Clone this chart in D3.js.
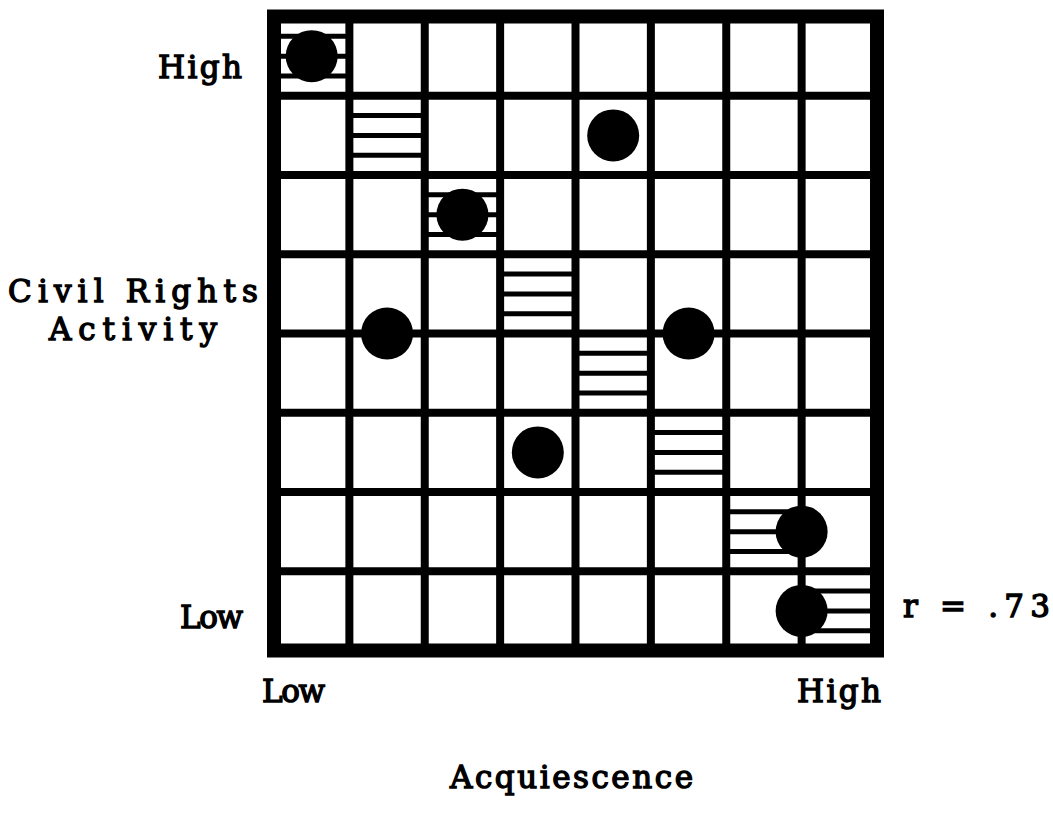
<!DOCTYPE html>
<html>
<head>
<meta charset="utf-8">
<script src="https://cdn.jsdelivr.net/npm/d3@7"></script>
<style>
  body { margin: 0; background: #fff; }
  text { font-family: "DejaVu Serif", "Liberation Serif", serif; fill: #000; stroke: #000; stroke-width: 1.4px; }
</style>
</head>
<body>
<div id="chart"></div>
<script>

// ranks of the eight cases (1 = low, 8 = high, ties share the mean rank)
var acquiescenceRank = [1, 5, 3, 2, 6, 4, 7.5, 7.5];
var civilRightsRank  = [8, 7, 6, 4.5, 4.5, 3, 2, 1];

// cells of a perfect rank order, drawn hatched
var perfectAcq   = [1, 2, 3, 4, 5, 6, 7, 8];
var perfectCivil = [8, 7, 6, 5, 4, 3, 2, 1];

// grid levels and labels
var levels = [1, 2, 3, 4, 5, 6, 7, 8];
var xLabels = ["Low", "High"];
var yLabels = ["Low", "High"];
var xTitle = "Acquiescence";
var yTitle = ["Civil Rights", "Activity"];
var rText = "r = .73";

// setting the dimensions of the page
var width = 1053,
    height = 820;

var svg = d3.select("#chart").append("svg")
    .attr("width", width)
    .attr("height", height);

// scales: one unit per grid cell
var x = d3.scaleLinear()
    .domain([levels[0] - 0.5, levels[levels.length - 1] + 0.5])
    .range([274, 877]);
var y = d3.scaleLinear()
    .domain([levels[0] - 0.5, levels[levels.length - 1] + 0.5])
    .range([650.5, 16.5]);

var cellH = y(0.5) - y(1.5);

// hatched cells: three horizontal bars per cell
var hatch = svg.append("g");
perfectAcq.forEach(function(a, i) {
  var c = perfectCivil[i];
  [0.25, 0.5, 0.75].forEach(function(f) {
    hatch.append("line")
      .attr("x1", x(a - 0.5))
      .attr("x2", x(a + 0.5))
      .attr("y1", y(c + 0.5) + f * cellH)
      .attr("y2", y(c + 0.5) + f * cellH)
      .attr("stroke", "#000")
      .attr("stroke-width", 5);
  });
});

// inner grid lines
var inner = levels.slice(0, -1).map(function(d) { return d + 0.5; });
svg.append("g").selectAll("line")
  .data(inner)
  .enter().append("line")
    .attr("x1", function(d) { return x(d); })
    .attr("x2", function(d) { return x(d); })
    .attr("y1", y(8.5))
    .attr("y2", y(0.5))
    .attr("stroke", "#000")
    .attr("stroke-width", 8);
svg.append("g").selectAll("line")
  .data(inner)
  .enter().append("line")
    .attr("x1", x(0.5))
    .attr("x2", x(8.5))
    .attr("y1", function(d) { return y(d); })
    .attr("y2", function(d) { return y(d); })
    .attr("stroke", "#000")
    .attr("stroke-width", 8);

// heavy outer frame
svg.append("rect")
  .attr("x", x(0.5))
  .attr("y", y(8.5))
  .attr("width", x(8.5) - x(0.5))
  .attr("height", y(0.5) - y(8.5))
  .attr("fill", "none")
  .attr("stroke", "#000")
  .attr("stroke-width", 14);

// observed cases
svg.append("g").selectAll("circle")
  .data(acquiescenceRank)
  .enter().append("circle")
    .attr("cx", function(d) { return x(d); })
    .attr("cy", function(d, i) { return y(civilRightsRank[i]); })
    .attr("r", 26)
    .attr("fill", "#000");

// typewriter-ish labels, spaced out to the widths in the original
function label(txt, x0, y0, len) {
  svg.append("text")
    .attr("x", x0)
    .attr("y", y0)
    .attr("font-size", 31)
    .attr("textLength", len)
    .attr("lengthAdjust", "spacing")
    .text(txt);
}

// y axis end labels and title
label(yLabels[1], 158, 78, 84);
label(yLabels[0], 180, 628, 63);
label(yTitle[0], 8, 302, 250);
label(yTitle[1], 49, 340, 168);

// x axis end labels and title
label(xLabels[0], 262, 702, 63);
label(xLabels[1], 797, 702, 84);
label(xTitle, 450, 788, 243);

// correlation
label(rText, 903, 617, 147);

</script>
</body>
</html>
